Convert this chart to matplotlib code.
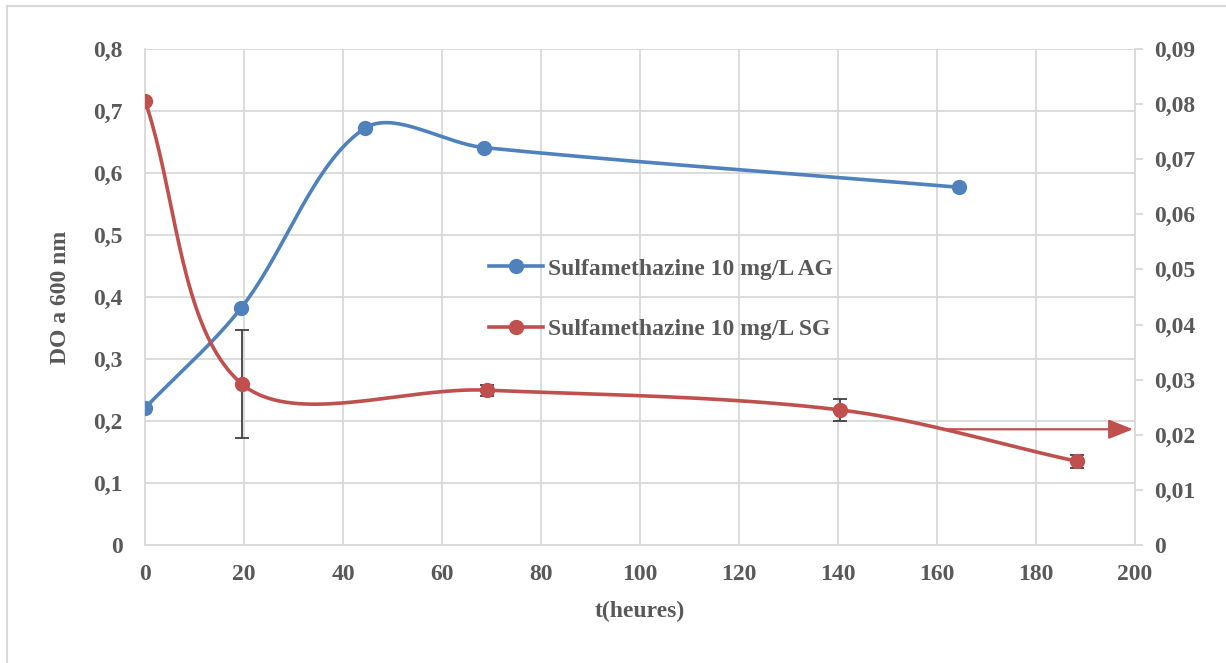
import matplotlib

matplotlib.use("Agg")
import matplotlib.pyplot as plt
import numpy as np
from matplotlib.patches import Rectangle
from matplotlib.ticker import FuncFormatter, MultipleLocator

# Sulfamethazine 10 mg/L AG (left axis)
t_ag = [0, 19.4, 44.4, 68.5, 164.4]
do_ag = [0.221, 0.382, 0.672, 0.641, 0.577]

# Sulfamethazine 10 mg/L SG (right axis)
t_sg = [0, 19.6, 69.0, 140.5, 188.2]
do_sg = [0.0806, 0.0292, 0.0281, 0.0245, 0.0152]
err_sg = [0.0, 0.0098, 0.0010, 0.0020, 0.0012]

LABEL_AG = "Sulfamethazine 10 mg/L AG"
LABEL_SG = "Sulfamethazine 10 mg/L SG"

BLUE = "#4f81bd"
RED = "#c0504d"
TXT = "#595959"
GRID = "#d9d9d9"
FS = 17


def smooth(x, y, sx, sy, n=40):
    """Smoothed line like a spreadsheet chart: cubic Bezier whose tangents
    are weighted by the on-screen length of the neighbouring segments."""
    p = np.column_stack([np.asarray(x) * sx, np.asarray(y) * sy]).astype(float)
    ext = np.vstack([p[0], p, p[-1]])
    d = np.hypot(*np.diff(ext, axis=0).T)
    out = []
    s = np.linspace(0, 1, n)[:, None]
    for i in range(len(p) - 1):
        p0, p1, p2, p3 = ext[i], ext[i + 1], ext[i + 2], ext[i + 3]
        da, db, dc = d[i], d[i + 1], d[i + 2]
        w1 = db / (da + db) if da + db else 0.5
        w2 = db / (db + dc) if db + dc else 0.5
        c1 = p1 + (p2 - p0) * w1 / 3
        c2 = p2 - (p3 - p1) * w2 / 3
        seg = ((1 - s) ** 3) * p1 + 3 * ((1 - s) ** 2) * s * c1 \
            + 3 * (1 - s) * s ** 2 * c2 + s ** 3 * p2
        out.append(seg if i == 0 else seg[1:])
    out = np.vstack(out)
    return out[:, 0] / sx, out[:, 1] / sy


plt.rcParams["font.family"] = ["Liberation Serif", "DejaVu Serif"]
plt.rcParams["font.weight"] = "bold"
plt.rcParams["axes.labelweight"] = "bold"

fig = plt.figure(figsize=(12.26, 6.63), dpi=100)
ax = fig.add_axes([145 / 1226, 1 - 545 / 663, 990 / 1226, 496 / 663])
ax2 = ax.twinx()

# outer chart border
fig.patches.append(Rectangle((7 / 1226, -0.01), 1.2, 1 - 6 / 663 + 0.01,
                             transform=fig.transFigure, fill=False,
                             edgecolor=GRID, lw=1.5))

ax.set_xlim(0, 200)
ax.set_ylim(0, 0.8)
ax2.set_ylim(0, 0.09)
ax.xaxis.set_major_locator(MultipleLocator(20))
ax.yaxis.set_major_locator(MultipleLocator(0.1))
ax2.yaxis.set_major_locator(MultipleLocator(0.01))

comma = FuncFormatter(lambda v, _: "0" if abs(v) < 1e-9 else f"{v:.2f}".rstrip("0").replace(".", ","))
ax.yaxis.set_major_formatter(comma)
ax2.yaxis.set_major_formatter(comma)

ax.grid(True, color=GRID, lw=1.3)
ax.set_axisbelow(True)
for a in (ax, ax2):
    a.spines["top"].set_visible(False)
    for sp in ["left", "bottom", "right"]:
        a.spines[sp].set_color(GRID)
        a.spines[sp].set_linewidth(1.3)
ax.spines["right"].set_visible(False)
ax2.spines["left"].set_visible(False)
ax2.spines["bottom"].set_visible(False)

ax.tick_params(axis="x", length=0, labelsize=FS, labelcolor=TXT, pad=14)
ax.tick_params(axis="y", length=0, labelsize=FS, labelcolor=TXT, pad=16)
ax2.tick_params(axis="y", length=6, width=1.3, color=GRID, labelsize=FS,
                labelcolor=TXT, pad=8, direction="out")

# on-screen pixels per data unit, used only to shape the smoothing
sx, sy_left, sy_right = 4.95, 620.0, 5511.0

xs, ys = smooth(t_ag, do_ag, sx, sy_left)
ax.plot(xs, ys, color=BLUE, lw=2.6, zorder=3)
ax.plot(t_ag, do_ag, "o", color=BLUE, ms=10, zorder=4)

xs, ys = smooth(t_sg, do_sg, sx, sy_right)
ax2.plot(xs, ys, color=RED, lw=2.6, zorder=3)
ax2.errorbar(t_sg, do_sg, yerr=err_sg, fmt="none", ecolor="#404040",
             elinewidth=1.3, capsize=5, capthick=1.3, zorder=4)
ax2.plot(t_sg, do_sg, "o", color=RED, ms=10, zorder=5)

# arrow pointing the SG series to the right axis
ax2.annotate("", xy=(199.6, 0.021), xytext=(162, 0.021),
             arrowprops=dict(arrowstyle="-|>,head_length=1.0,head_width=0.4",
                             mutation_scale=15, color=RED, lw=1.6,
                             shrinkA=0, shrinkB=0))

ax.set_xlabel("t(heures)", fontsize=FS, color=TXT, labelpad=11)
ax.set_ylabel("DO a 600 nm", fontsize=FS, color=TXT, labelpad=32 - 16)

h1 = plt.Line2D([], [], color=BLUE, lw=2.6, marker="o", ms=10)
h2 = plt.Line2D([], [], color=RED, lw=2.6, marker="o", ms=10)
fig.legend([h1, h2], [LABEL_AG, LABEL_SG], loc="upper left",
           bbox_to_anchor=(489 / 1226, 1 - 258 / 663), frameon=False,
           fontsize=FS, labelcolor=TXT, handlelength=2.3, handletextpad=0.2,
           labelspacing=1.65, borderpad=0, borderaxespad=0)

fig.savefig("out.png", dpi=100)
